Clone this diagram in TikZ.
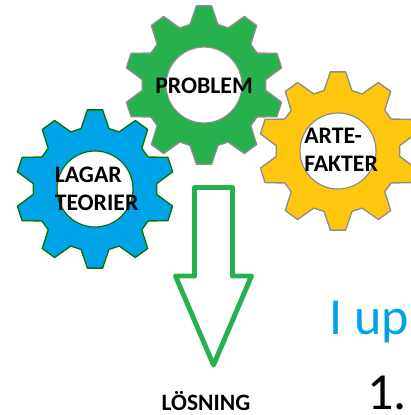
\documentclass[tikz,border=0pt]{standalone}
\usepackage{fontspec}
\setmainfont{Carlito}
\definecolor{gearblue}{RGB}{0,162,232}
\definecolor{geargreen}{RGB}{39,176,78}
\definecolor{gearyellow}{RGB}{255,198,14}
\tikzset{
  geartext/.style={inner sep=0.75pt,align=left,font=\fontsize{17.8}{21}\selectfont\bfseries},
  gearhole/.style={fill=white,draw=#1,line width=0.9pt},
}
% one gear: centre, fill, edge
\newcommand{\gearat}[3]{
  \draw[fill=#2,draw=#3,line width=1pt,line join=round,shift={#1}]
    (77:62)
    \foreach \ang in {90,126,162,198,234,270,306,342,378,414} {
      -- ({\ang-13}:62) -- ({\ang-5.5}:79.5) -- ({\ang+5.5}:79.5) -- ({\ang+13}:62)
    } -- cycle;
  \draw[gearhole=#3] #1 circle (38);
}

\begin{document}
\begin{tikzpicture}[x=0.75pt,y=0.75pt,yscale=-1,xscale=1]
\clip (0,0) rectangle (411,415);
\useasboundingbox (0,0) rectangle (411,415);

%Gears
\gearat{(338,151)}{gearyellow}{gray!90}
\gearat{(204,85)}{geargreen}{gray!90}
\gearat{(95,189)}{gearblue}{green!45!black}

%Arrow
\draw[draw=geargreen,line width=3.7pt,line join=round]
  (194.5,187.5) -- (232.5,187.5) -- (232.5,276) -- (251.5,276) -- (213.5,365) -- (175.5,276) -- (194.5,276) -- cycle;

% Text Node
\node[geartext] (problem) at (204,86) {PROBLEM};
% Text Node
\node[geartext,anchor=west] (lagar) at (53.5,189) {LAGAR\\TEORIER};
% Text Node
\node[geartext,anchor=west] (artefakter) at (303,150) {ARTE-\\FAKTER};
% Text Node
\node[inner sep=0.75pt,font=\fontsize{17.6}{20}\selectfont\bfseries] (losning) at (206,401) {LÖSNING};
% Text Node
\node[inner sep=0pt,anchor=base west,text=gearblue,font=\fontsize{39}{44}\selectfont] (iup) at (329,334) {I up};
% Text Node
\node[inner sep=0pt,anchor=base west,font=\fontsize{39}{44}\selectfont] (ettan) at (367,409) {1.};
\end{tikzpicture}
\end{document}
